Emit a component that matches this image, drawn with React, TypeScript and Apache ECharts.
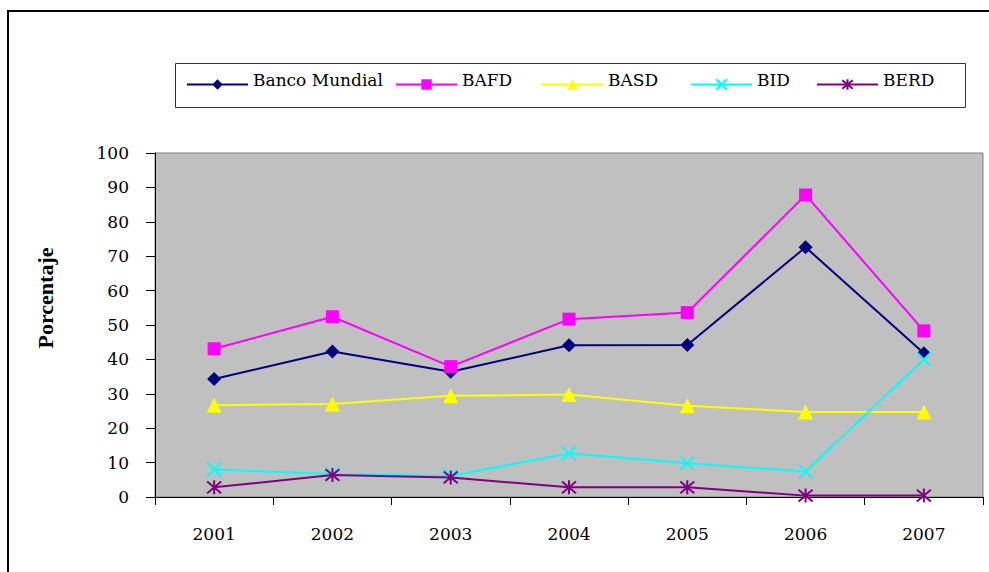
import React, { useEffect, useRef } from "react";
import * as echarts from "echarts";

const years = ["2001", "2002", "2003", "2004", "2005", "2006", "2007"];
const seriesNames = ["Banco Mundial", "BAFD", "BASD", "BID", "BERD"];
const bancoMundial = [34.3, 42.3, 36.4, 44.1, 44.2, 72.6, 41.8];
const bafd = [43.1, 52.4, 37.9, 51.7, 53.6, 87.8, 48.3];
const basd = [26.7, 27.0, 29.4, 29.8, 26.5, 24.7, 24.7];
const bid = [8.0, 6.7, 6.1, 12.7, 9.8, 7.4, 40.0];
const berd = [2.8, 6.4, 5.7, 2.8, 2.8, 0.4, 0.4];
const yTicks = [0, 10, 20, 30, 40, 50, 60, 70, 80, 90, 100];

const colors = ["#000080", "#FF00FF", "#FFFF00", "#00FFFF", "#800080"];
const symbols = [
  "diamond",
  "rect",
  "triangle",
  "path://M0,0L10,10M10,0L0,10",
  "path://M0,0L10,10M10,0L0,10M5,-1L5,11",
];
const symbolSizes = [14, 13, 15, 14, 14];
const legendLefts = [186, 395, 541, 690, 816];
const FONT = "DejaVu Serif";
const FONT_BOLD = "Liberation Serif";

export default function App() {
  const ref = useRef<HTMLDivElement>(null);
  useEffect(() => {
    if (!ref.current) return;
    const chart = echarts.init(ref.current, undefined, { renderer: "svg" });
    const dataSets = [bancoMundial, bafd, basd, bid, berd];
    const option: any = {
      animation: false,
      backgroundColor: "#ffffff",
      textStyle: { fontFamily: FONT },
      graphic: [
        {
          type: "rect",
          shape: { x: 8, y: 11, width: 1000, height: 600 },
          style: { fill: "none", stroke: "#000", lineWidth: 2 },
          z: 0,
        },
        {
          type: "rect",
          shape: { x: 175.5, y: 63.5, width: 790, height: 44 },
          style: { fill: "#fff", stroke: "#333", lineWidth: 1 },
          z: 1,
        },
      ],
      legend: seriesNames.map((n, i) => ({
        data: [n],
        left: legendLefts[i],
        top: 71,
        padding: 0,
        itemWidth: 61,
        itemHeight: 13,
        z: 5,
        selectedMode: false,
        formatter: "{a|{name}}",
        textStyle: {
          fontFamily: FONT,
          fontSize: 17,
          color: "#000",
          rich: {
            a: {
              fontFamily: FONT,
              fontSize: 17,
              fontWeight: "normal",
              color: "#000",
              lineHeight: 20,
              padding: [0, 0, 10, 0],
            },
          },
        },
      })),
      grid: {
        left: 155,
        right: 6,
        top: 153,
        bottom: 75,
        show: true,
        backgroundColor: "#C0C0C0",
        borderColor: "#808080",
        borderWidth: 1,
      },
      xAxis: {
        type: "category",
        data: years,
        boundaryGap: true,
        axisLine: { lineStyle: { color: "#000", width: 1 } },
        axisTick: { show: true, length: 8, inside: false, lineStyle: { color: "#000" } },
        axisLabel: { fontFamily: FONT, fontSize: 17, color: "#000", margin: 28 },
      },
      yAxis: {
        type: "value",
        min: yTicks[0],
        max: yTicks[yTicks.length - 1],
        interval: 10,
        name: "Porcentaje",
        nameLocation: "middle",
        nameGap: 99,
        nameRotate: 90,
        nameTextStyle: {
          fontFamily: FONT_BOLD,
          fontSize: 22,
          fontWeight: "bold",
          color: "#000",
          padding: [0, 0, 0, 54],
        },
        axisLine: { show: true, lineStyle: { color: "#000", width: 1 } },
        axisTick: { show: true, length: 9, lineStyle: { color: "#000" } },
        splitLine: { show: false },
        axisLabel: { fontFamily: FONT, fontSize: 17, color: "#000", margin: 26 },
      },
      series: seriesNames.map((n, i) => ({
        name: n,
        type: "line",
        data: dataSets[i],
        symbol: symbols[i],
        symbolSize: symbolSizes[i],
        showAllSymbol: true,
        lineStyle: { color: colors[i], width: 2 },
        itemStyle: {
          color: colors[i],
          borderColor: colors[i],
          borderWidth: i >= 3 ? 2 : 0,
        },
        emphasis: { disabled: true },
        z: 3 + i,
      })),
    };
    chart.setOption(option);
    return () => chart.dispose();
  }, []);
  return (
    <div
      ref={ref}
      style={{ position: "absolute", left: 0, top: 0, width: 989, height: 572 }}
    />
  );
}
